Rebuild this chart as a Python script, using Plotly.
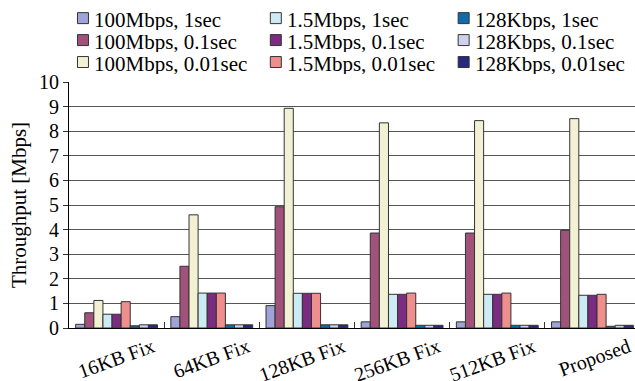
import plotly.graph_objects as go

categories = ["16KB Fix", "64KB Fix", "128KB Fix", "256KB Fix", "512KB Fix", "Proposed"]

series_names = [
    "100Mbps, 1sec", "100Mbps, 0.1sec", "100Mbps, 0.01sec",
    "1.5Mbps, 1sec", "1.5Mbps, 0.1sec", "1.5Mbps, 0.01sec",
    "128Kbps, 1sec", "128Kbps, 0.1sec", "128Kbps, 0.01sec",
]

s100_1 = [0.15, 0.46, 0.91, 0.25, 0.25, 0.25]
s100_01 = [0.62, 2.51, 4.93, 3.86, 3.86, 3.97]
s100_001 = [1.12, 4.60, 8.93, 8.34, 8.43, 8.51]
s15_1 = [0.56, 1.42, 1.41, 1.37, 1.37, 1.33]
s15_01 = [0.56, 1.42, 1.41, 1.37, 1.37, 1.33]
s15_001 = [1.07, 1.42, 1.41, 1.42, 1.42, 1.37]
s128_1 = [0.09, 0.13, 0.13, 0.11, 0.11, 0.07]
s128_01 = [0.13, 0.13, 0.13, 0.11, 0.11, 0.11]
s128_001 = [0.13, 0.13, 0.13, 0.11, 0.11, 0.11]

series_values = [s100_1, s100_01, s100_001, s15_1, s15_01, s15_001, s128_1, s128_01, s128_001]

colors = ["#9ea3d8", "#a0527a", "#f3f1d3", "#cdebf4", "#7a2c80", "#ee8f8d",
          "#0e6cae", "#cfd0ec", "#26297f"]

y_ticks = list(range(0, 11))

W, H = 635, 381
L, R, T, B = 68.5, 0, 82, 52.5
pw = W - L - R
ph = H - T - B

FONT = "Liberation Serif"

fig = go.Figure()
for name, vals, col in zip(series_names, series_values, colors):
    fig.add_trace(go.Bar(
        x=categories, y=vals, name=name, showlegend=False,
        marker=dict(color=col, line=dict(color="#333333", width=1)),
    ))

# manual legend, column-major (3 columns x 3 rows)
col_sq_x = [77, 270, 458]
row_y = [18, 40, 62]
sq = 11
shapes = []
annotations = []
for i, (name, col) in enumerate(zip(series_names, colors)):
    c, r = i // 3, i % 3
    x0 = col_sq_x[c]
    yc = row_y[r]
    shapes.append(dict(
        type="rect", xref="paper", yref="paper",
        x0=(x0 - L) / pw, x1=(x0 + sq - L) / pw,
        y0=(H - B - (yc + sq / 2)) / ph, y1=(H - B - (yc - sq / 2)) / ph,
        fillcolor=col, line=dict(color="#333333", width=1),
    ))
    annotations.append(dict(
        text=name, xref="paper", yref="paper",
        x=(x0 + sq + 5 - L) / pw, y=(H - B - (yc + 1)) / ph,
        xanchor="left", yanchor="middle", showarrow=False,
        height=21, valign="middle", borderpad=0,
        font=dict(family=FONT, size=21, color="black"),
    ))

fig.update_layout(
    width=W, height=H,
    margin=dict(l=L, r=R, t=T, b=B, autoexpand=False),
    paper_bgcolor="white", plot_bgcolor="white",
    barmode="group", bargap=0.14, bargroupgap=0,
    font=dict(family=FONT, size=20, color="black"),
    shapes=shapes, annotations=annotations,
    xaxis=dict(
        range=[-0.5, 5.447], tickangle=-20, tickson="boundaries",
        ticks="inside", ticklen=6, tickcolor="#333333",
        showline=True, linecolor="black", linewidth=1,
        showgrid=False, ticklabelshift=36, ticklabelstandoff=-1,
        tickfont=dict(family=FONT, size=20, color="black"),
    ),
    yaxis=dict(
        range=[0, 10], tickvals=y_ticks, ticks="outside", ticklen=5,
        tickcolor="#333333", showline=True, linecolor="black", linewidth=1,
        showgrid=True, gridcolor="#555555", gridwidth=1, zeroline=False,
        tickfont=dict(family=FONT, size=20, color="black"),
        title=dict(text="Throughput [Mbps]", font=dict(family=FONT, size=21, color="black"), standoff=6),
    ),
)

fig.write_html(
    "out.html",
    config={"displayModeBar": False},
    post_script="document.body.style.margin='0';document.body.style.overflow='hidden';",
)
